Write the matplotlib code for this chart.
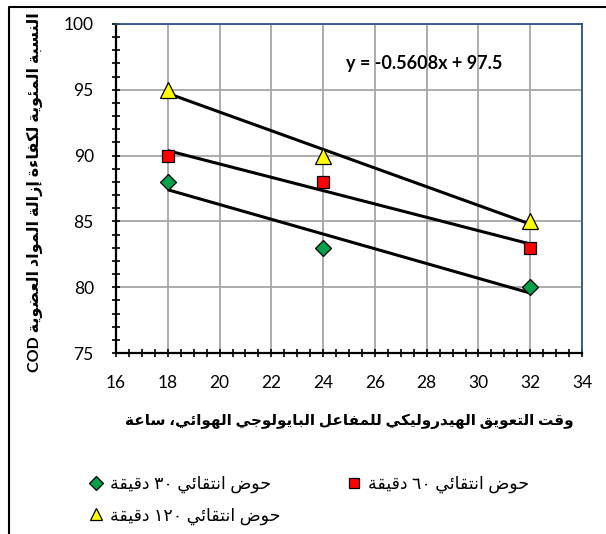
import re
import numpy as np
import matplotlib
matplotlib.use("Agg")
import matplotlib.pyplot as plt
from matplotlib.lines import Line2D

# ---------------- data ----------------
hrt_hours = [18, 24, 32]
cod_30min = [88, 83, 80]
cod_60min = [90, 88, 83]
cod_120min = [95, 90, 85]
series_labels = ["حوض انتقائي ٣٠ دقيقة", "حوض انتقائي ٦٠ دقيقة", "حوض انتقائي ١٢٠ دقيقة"]
x_label = "وقت التعويق الهيدروليكي للمفاعل البايولوجي الهوائي، ساعة"
y_label = "النسبة المئوية لكفاءة إزالة المواد العضوية COD"
x_ticks = [16, 18, 20, 22, 24, 26, 28, 30, 32, 34]
y_ticks = [75, 80, 85, 90, 95, 100]

# ------------- Arabic shaping helper (presentation forms + visual order) -------------
_FORMS = {
    '\u0621': (0xFE80, 0), '\u0622': (0xFE81, 1), '\u0623': (0xFE83, 1), '\u0624': (0xFE85, 1),
    '\u0625': (0xFE87, 1), '\u0626': (0xFE89, 2), '\u0627': (0xFE8D, 1), '\u0628': (0xFE8F, 2),
    '\u0629': (0xFE93, 1), '\u062A': (0xFE95, 2), '\u062B': (0xFE99, 2), '\u062C': (0xFE9D, 2),
    '\u062D': (0xFEA1, 2), '\u062E': (0xFEA5, 2), '\u062F': (0xFEA9, 1), '\u0630': (0xFEAB, 1),
    '\u0631': (0xFEAD, 1), '\u0632': (0xFEAF, 1), '\u0633': (0xFEB1, 2), '\u0634': (0xFEB5, 2),
    '\u0635': (0xFEB9, 2), '\u0636': (0xFEBD, 2), '\u0637': (0xFEC1, 2), '\u0638': (0xFEC5, 2),
    '\u0639': (0xFEC9, 2), '\u063A': (0xFECD, 2), '\u0641': (0xFED1, 2), '\u0642': (0xFED5, 2),
    '\u0643': (0xFED9, 2), '\u0644': (0xFEDD, 2), '\u0645': (0xFEE1, 2), '\u0646': (0xFEE5, 2),
    '\u0647': (0xFEE9, 2), '\u0648': (0xFEED, 1), '\u0649': (0xFEEF, 1), '\u064A': (0xFEF1, 2),
}
_LAM_ALEF = {'\u0622': 0xFEF5, '\u0623': 0xFEF7, '\u0625': 0xFEF9, '\u0627': 0xFEFB}


def _shape(s):
    out = []
    n = len(s)
    i = 0
    while i < n:
        c = s[i]
        if c not in _FORMS:
            out.append(c)
            i += 1
            continue
        prev = s[i - 1] if i > 0 else None
        joins_prev = prev in _FORMS and _FORMS[prev][1] == 2 and _FORMS[c][1] > 0
        if c == '\u0644' and i + 1 < n and s[i + 1] in _LAM_ALEF:
            out.append(chr(_LAM_ALEF[s[i + 1]] + (1 if joins_prev else 0)))
            i += 2
            continue
        nxt = s[i + 1] if i + 1 < n else None
        base, t = _FORMS[c]
        joins_next = t == 2 and nxt in _FORMS and _FORMS[nxt][1] > 0
        if t == 0:
            g = base
        elif joins_prev and joins_next:
            g = base + 3
        elif joins_prev:
            g = base + 1
        elif joins_next:
            g = base + 2
        else:
            g = base
        out.append(chr(g))
        i += 1
    return ''.join(out)


def ar(s):
    rev = _shape(s)[::-1]
    return re.sub(r'[0-9A-Za-z\u0660-\u0669.]+', lambda m: m.group(0)[::-1], rev)


# ---------------- figure ----------------
plt.rcParams['font.family'] = ['Lato', 'DejaVu Sans']
W, H = 606, 534
fig = plt.figure(figsize=(W / 100, H / 100), dpi=100)
ax_l, ax_r, ax_t, ax_b = 116, 582, 24, 353
ax = fig.add_axes([ax_l / W, 1 - ax_b / H, (ax_r - ax_l) / W, (ax_b - ax_t) / H])

ax.set_xlim(16, 34)
ax.set_ylim(75, 100)
ax.set_xticks(x_ticks)
ax.set_yticks(y_ticks)
ax.set_xticks(np.arange(16, 34.01, 0.5), minor=True)
ax.set_yticks(np.arange(75, 100.01, 1), minor=True)
ax.tick_params(which='both', direction='inout', length=6, width=1.2, color='black')
ax.tick_params(axis='x', which='major', labelsize=12.5, pad=13)
ax.tick_params(axis='y', which='major', labelsize=12.5, pad=13)

ax.grid(True, which='major', color='#A6A6A6', linewidth=1.3, zorder=0)
ax.set_axisbelow(True)
for side in ('left', 'bottom'):
    ax.spines[side].set_color('black')
    ax.spines[side].set_linewidth(1.6)
for side in ('top', 'right'):
    ax.spines[side].set_color('#2F528F')
    ax.spines[side].set_linewidth(1.3)

styles = [
    dict(marker='D', mfc='#00A04A', ms=8.5),
    dict(marker='s', mfc='#FF0000', ms=8),
    dict(marker='^', mfc='#FFFF00', ms=11),
]
all_series = [cod_30min, cod_60min, cod_120min]

fits = []
for ys in all_series:
    m, b = np.polyfit(hrt_hours, ys, 1)
    fits.append((m, b))
    xs = np.array([min(hrt_hours), max(hrt_hours)])
    ax.plot(xs, m * xs + b, color='black', linewidth=2.2, zorder=3, solid_capstyle='butt')

handles = []
for ys, st in zip(all_series, styles):
    ax.plot(hrt_hours, ys, linestyle='none', marker=st['marker'], markerfacecolor=st['mfc'],
            markeredgecolor='black', markeredgewidth=0.9, markersize=st['ms'], zorder=4)
    handles.append(Line2D([], [], linestyle='none', marker=st['marker'], markerfacecolor=st['mfc'],
                          markeredgecolor='black', markeredgewidth=0.9, markersize=st['ms'] * 0.85))

m0, b0 = fits[0]
ax.text(27.9, 97.0, f"y = {m0:.4f}x + {b0:.1f}", fontsize=13, fontweight='bold',
        ha='center', va='center', zorder=5)

ax.set_xlabel(ar(x_label), fontsize=11, fontweight='bold')
ax.xaxis.set_label_coords(0.5, (ax_b - 421) / (ax_b - ax_t))
ax.xaxis.label.set_va('center')
ax.set_ylabel(ar(y_label), fontsize=11.5, fontweight='bold')
ax.yaxis.set_label_coords((35 - ax_l) / (ax_r - ax_l), (ax_b - 192) / (ax_b - ax_t))
ax.yaxis.label.set_va('center')

order = [0, 2, 1]
fig.legend([handles[i] for i in order], [ar(series_labels[i]) for i in order],
           loc='upper left', bbox_to_anchor=(87 / W, 1 - 476 / H), ncol=2, frameon=False,
           fontsize=12.5, handlelength=1.0, handletextpad=0.35, columnspacing=3.7,
           labelspacing=0.8, borderpad=0, borderaxespad=0)

# outer chart border (left and top visible)
fig.add_artist(Line2D([9 / W, 9 / W, 1.0], [0.0, 1 - 7 / H, 1 - 7 / H],
                      transform=fig.transFigure, color='black', linewidth=1.5))

fig.savefig('out.png', dpi=100)
